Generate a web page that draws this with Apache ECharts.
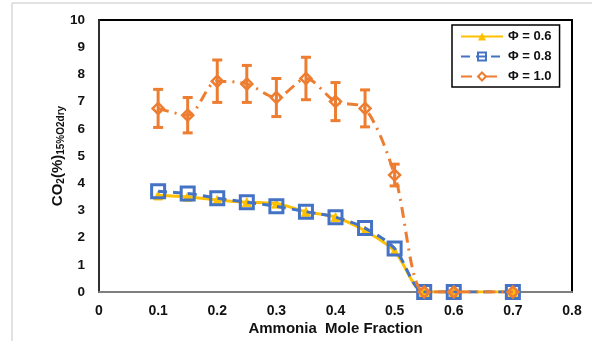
<!DOCTYPE html>
<html><head><meta charset="utf-8">
<script src="https://cdn.jsdelivr.net/npm/echarts@6/dist/echarts.min.js"></script>
<style>html,body{margin:0;padding:0;background:#fff}#c{width:592px;height:341px}</style>
</head><body><div id="c"></div>
<script>
const xValues = [0.1, 0.15, 0.2, 0.25, 0.3, 0.35, 0.4, 0.45, 0.5, 0.55, 0.6, 0.7];
const phi06 = [3.55, 3.5, 3.38, 3.3, 3.25, 2.95, 2.75, 2.25, 1.5, 0, 0, 0];
const phi08 = [3.7, 3.62, 3.45, 3.3, 3.15, 2.95, 2.75, 2.35, 1.6, 0, 0, 0];
const phi10 = [6.75, 6.5, 7.75, 7.65, 7.15, 7.85, 7.0, 6.75, 4.3, 0, 0, 0];
const phi10Err = [0.7, 0.65, 0.78, 0.68, 0.7, 0.78, 0.7, 0.68, 0.4, 0, 0, 0];
const xTicks = [0, 0.1, 0.2, 0.3, 0.4, 0.5, 0.6, 0.7, 0.8];
const yTicks = [0, 1, 2, 3, 4, 5, 6, 7, 8, 9, 10];
const seriesNames = ['Φ = 0.6', 'Φ = 0.8', 'Φ = 1.0'];

const pair = arr => xValues.map((x, i) => [x, arr[i]]);
const errData = xValues.map((x, i) => [x, phi10[i] - phi10Err[i], phi10[i] + phi10Err[i]]).filter((d, i) => phi10Err[i] > 0);

const chart = echarts.init(document.getElementById('c'));
const font = 'Liberation Sans, Arial, sans-serif';
chart.setOption({
  animation: false,
  textStyle: { fontFamily: font },
  graphic: [
    { type: 'line', shape: { x1: 12, y1: 3, x2: 592, y2: 3 }, style: { stroke: '#d9d9d9', lineWidth: 1.5 } },
    { type: 'line', shape: { x1: 12, y1: 3, x2: 12, y2: 341 }, style: { stroke: '#d9d9d9', lineWidth: 1.5 } }
  ],
  grid: { left: 99, right: 20, top: 20, bottom: 47, show: true, borderColor: '#000', borderWidth: 2, backgroundColor: 'transparent' },
  legend: {
    orient: 'vertical', left: 452, top: 25, width: 106,
    data: seriesNames,
    borderColor: '#000', borderWidth: 1.5, padding: [5, 8, 4, 8],
    itemWidth: 42, itemHeight: 10, itemGap: 7,
    textStyle: { fontSize: 13, fontWeight: 'bold', color: '#111', fontFamily: font }
  },
  xAxis: {
    type: 'value', min: 0, max: 0.8, interval: 0.1,
    name: 'Ammonia  Mole Fraction', nameLocation: 'middle', nameGap: 29,
    nameMoveOverlap: false,
    nameTextStyle: { fontSize: 15, fontWeight: 'bold', color: '#111', fontFamily: font },
    axisLine: { show: true, lineStyle: { color: '#7f7f7f', width: 2 } },
    axisTick: { show: false },
    splitLine: { show: false },
    axisLabel: { fontSize: 14, fontWeight: 'bold', color: '#111', margin: 12, formatter: v => { const t = xTicks.find(k => Math.abs(k - v) < 1e-6); return t === undefined ? '' : String(t); } }
  },
  yAxis: {
    type: 'value', min: 0, max: 10, interval: 1,
    name: '{a|CO}{s|2}{a|(%)}{s|15%O2dry}', nameLocation: 'middle', nameGap: 33,
    nameMoveOverlap: false,
    nameTextStyle: { rich: {
      a: { fontSize: 15, fontWeight: 'bold', color: '#111', fontFamily: font },
      s: { fontSize: 10, fontWeight: 'bold', color: '#111', fontFamily: font, verticalAlign: 'bottom', padding: [7, 0, 0, 0] }
    } },
    axisLine: { show: true, lineStyle: { color: '#404040', width: 1.5 } },
    axisTick: { show: false },
    splitLine: { show: false },
    axisLabel: { fontSize: 13.5, fontWeight: 'bold', color: '#111', margin: 14, formatter: v => { const t = yTicks.find(k => Math.abs(k - v) < 1e-6); return t === undefined ? '' : String(t); } }
  },
  series: [
    {
      name: seriesNames[0], type: 'line', data: pair(phi06), smooth: 0.3,
      symbol: 'triangle', symbolSize: 9, z: 3,
      lineStyle: { color: '#FFC000', width: 3 },
      itemStyle: { color: '#FFC000', borderColor: '#FFC000' }
    },
    {
      name: seriesNames[1], type: 'line', data: pair(phi08), smooth: 0.3,
      symbol: 'rect', symbolSize: 13, z: 4,
      lineStyle: { color: '#4472C4', width: 3, type: [9, 6] },
      itemStyle: { color: 'rgba(255,255,255,0)', borderColor: '#4472C4', borderWidth: 3 }
    },
    {
      name: seriesNames[2], type: 'line', data: pair(phi10), smooth: 0.3,
      symbol: 'diamond', symbolSize: 11, z: 5,
      lineStyle: { color: '#ED7D31', width: 3, type: [11, 6, 2, 6] },
      itemStyle: { color: 'rgba(255,255,255,0)', borderColor: '#ED7D31', borderWidth: 2.5 }
    },
    {
      name: 'err', type: 'custom', data: errData, z: 6,
      encode: { x: 0, y: [1, 2] },
      renderItem: function (params, api) {
        const x = api.value(0);
        const lo = api.coord([x, api.value(1)]);
        const hi = api.coord([x, api.value(2)]);
        const w = 5;
        const st = { stroke: '#ED7D31', lineWidth: 3 };
        return { type: 'group', children: [
          { type: 'line', shape: { x1: lo[0], y1: lo[1], x2: hi[0], y2: hi[1] }, style: st },
          { type: 'line', shape: { x1: lo[0] - w, y1: lo[1], x2: lo[0] + w, y2: lo[1] }, style: st },
          { type: 'line', shape: { x1: hi[0] - w, y1: hi[1], x2: hi[0] + w, y2: hi[1] }, style: st }
        ] };
      }
    }
  ]
});
</script></body></html>
